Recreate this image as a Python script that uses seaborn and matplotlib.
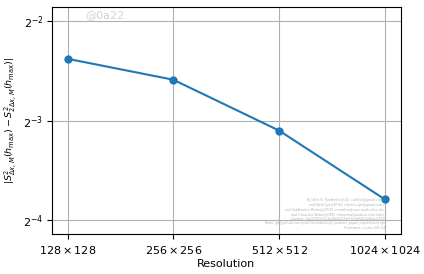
#!/usr/bin/env python3
"""
Convergence of the structure function difference against resolution.
"""

import numpy as np
import pandas as pd
import matplotlib
matplotlib.use("Agg")
import matplotlib.pyplot as plt
import seaborn as sns

resolutions = [128, 256, 512, 1024]
tick_labels = [r'$128 \times 128$', r'$256 \times 256$',
               r'$512 \times 512$', r'$1024 \times 1024$']
differences = [0.192, 0.166, 0.1166, 0.0723]
y_ticks = [2.0**-2, 2.0**-3, 2.0**-4]
y_tick_labels = [r'$2^{-2}$', r'$2^{-3}$', r'$2^{-4}$']

footer = ("By Ulrik S. Fjordholm@UiO <ulriksf@gmail.com>\n"
          "and Kjetil Lye@ETHZ <kjetil.o.lye@gmail.com>\n"
          "and Siddhartha Mishra@ETHZ <smishra@sam.math.ethz.ch>\n"
          "and Franziska Weber@CMU <franzisw@andrew.cmu.edu>\n"
          "Commit: 0a22765f07e4e0fe0d17af7fe0d9461a6b0c4389\n"
          "Repo: git@github.com:kjetil-lye/statistical_systems_paper_experiments.git\n"
          "Hostname: eu-ms-001-34")

df = pd.DataFrame({'resolution': resolutions, 'difference': differences})

fig, ax = plt.subplots(figsize=(4.24, 2.74), dpi=100)

sns.lineplot(data=df, x='resolution', y='difference', marker='o',
             markersize=6, markeredgewidth=0, color='#1f77b4', ax=ax)

ax.set_xscale('log', base=2)
ax.set_yscale('log', base=2)
ax.set_xticks(resolutions)
ax.set_xticklabels(tick_labels)
ax.minorticks_off()
ax.set_yticks(y_ticks)
ax.set_yticklabels(y_tick_labels)
ax.set_ylim(2.0**-4.14, 2.0**-1.86)
ax.grid(True)
ax.tick_params(labelsize=8)
ax.tick_params(axis='y', pad=2.5)

ax.set_xlabel('Resolution', fontsize=8, labelpad=2)
ax.set_ylabel(r'$|S^2_{\Delta x, M}(h_{\max}) - S^2_{2\Delta x, M}(h_{\max})|$',
              fontsize=6.8, labelpad=3)

ax.text(0.095, 0.985, '@0a22', transform=ax.transAxes, fontsize=8,
        color='lightgray', va='top', ha='left')
ax.text(0.955, 0.02, footer, transform=ax.transAxes, fontsize=2.3,
        color='gray', alpha=0.6, va='bottom', ha='right', multialignment='right')

fig.subplots_adjust(left=0.122, right=0.945, top=0.975, bottom=0.145)
fig.savefig('out.png', dpi=100)
